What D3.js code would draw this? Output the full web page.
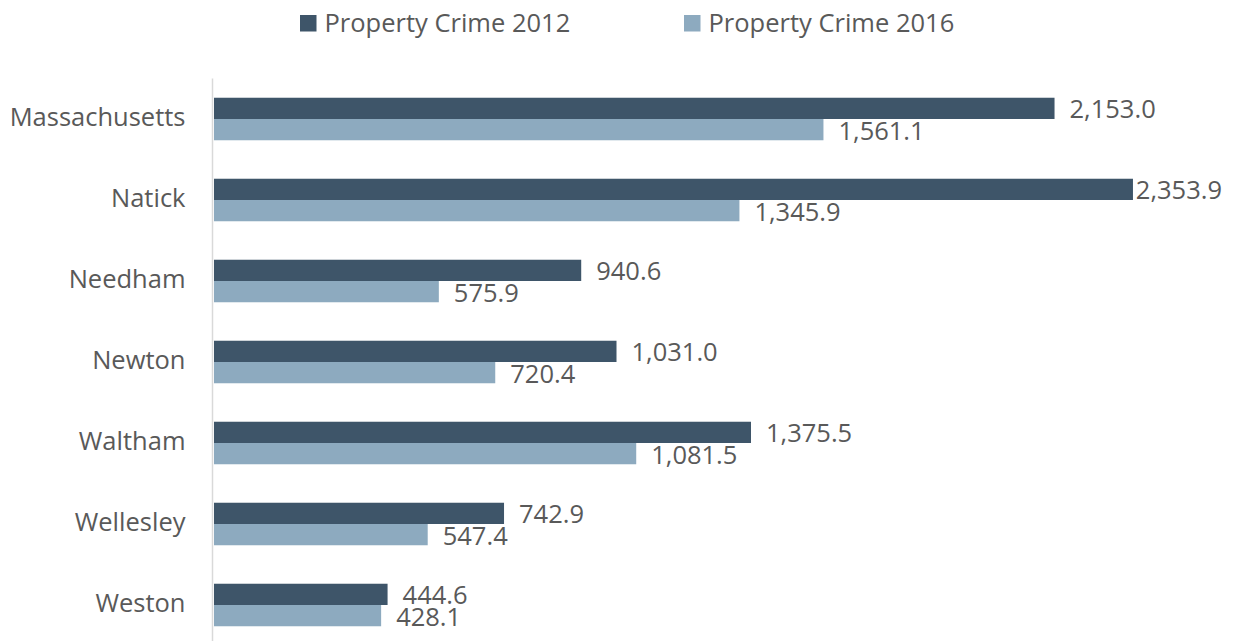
<!DOCTYPE html>
<html>
<head>
<meta charset="utf-8">
<script src="https://cdn.jsdelivr.net/npm/d3@7/dist/d3.min.js"></script>
<style>
  html, body { margin: 0; padding: 0; background: #ffffff; }
  svg { display: block; }
  text { font-family: "Open Sans", "Liberation Sans", sans-serif; fill: #595959; }
</style>
</head>
<body>
<svg id="chart" width="1233" height="641"></svg>
<script>
// Property crime rates by community
const categories = ["Massachusetts", "Natick", "Needham", "Newton", "Waltham", "Wellesley", "Weston"];
const seriesNames = ["Property Crime 2012", "Property Crime 2016"];
const crime2012 = [2153.0, 2353.9, 940.6, 1031.0, 1375.5, 742.9, 444.6];
const crime2016 = [1561.1, 1345.9, 575.9, 720.4, 1081.5, 547.4, 428.1];
const colors = ["#3E5569", "#8DAABF"];

const W = 1233, H = 641;
const fontSize = 25.5;
const svg = d3.select("#chart");

const plotLeft = 214, plotTop = 78.5, plotBottom = 645.5;
const x = d3.scaleLinear().domain([0, 2500]).range([plotLeft, plotLeft + 976]);

const y0 = d3.scaleBand()
  .domain(categories)
  .range([plotTop, plotBottom])
  .paddingInner(0.475)
  .paddingOuter(0.2375);

const y1 = d3.scaleBand()
  .domain(seriesNames)
  .range([0, y0.bandwidth()]);

const rows = categories.map((c, i) => ({
  category: c,
  values: [
    { series: seriesNames[0], value: crime2012[i], color: colors[0] },
    { series: seriesNames[1], value: crime2016[i], color: colors[1] }
  ]
}));

// Bars
const groups = svg.append("g").selectAll("g.group")
  .data(rows).join("g")
  .attr("class", "group")
  .attr("transform", d => `translate(0,${y0(d.category)})`);

groups.selectAll("rect")
  .data(d => d.values).join("rect")
  .attr("x", x(0))
  .attr("y", d => y1(d.series))
  .attr("width", d => x(d.value) - x(0))
  .attr("height", y1.bandwidth())
  .attr("fill", d => d.color);

// Value labels, kept inside the right edge
const fmt = d3.format(",.1f");
groups.selectAll("text.value")
  .data(d => d.values).join("text")
  .attr("class", "value")
  .attr("y", (d, i) => y1(d.series) + y1.bandwidth() / 2 + (i === 1 ? 1.5 : 0))
  .attr("dy", "0.36em")
  .style("font-size", fontSize + "px")
  .text(d => fmt(d.value))
  .attr("x", function(d) {
    const w = this.getComputedTextLength();
    return Math.min(x(d.value) + 15, W - 11 - w);
  });

// Category axis
const yAxis = d3.axisLeft(y0).tickSize(0).tickPadding(27);
const axisG = svg.append("g")
  .attr("transform", `translate(${plotLeft - 1.5},0)`)
  .call(yAxis);
axisG.select(".domain")
  .attr("d", `M0,${plotTop}V${plotBottom}`)
  .attr("stroke", "#D9D9D9")
  .attr("stroke-width", 1.5);
axisG.selectAll(".tick text")
  .style("font-size", fontSize + "px")
  .style("font-family", '"Open Sans", "Liberation Sans", sans-serif')
  .attr("fill", "#595959")
  .attr("dy", "0.28em");

// Legend
const legendX = [300, 684];
const legend = svg.append("g").selectAll("g")
  .data(seriesNames).join("g")
  .attr("transform", (d, i) => `translate(${legendX[i]},0)`);
legend.append("rect")
  .attr("x", 0).attr("y", 15)
  .attr("width", 16.5).attr("height", 16.5)
  .attr("fill", (d, i) => colors[i]);
legend.append("text")
  .attr("x", 24.5).attr("y", 31.5)
  .style("font-size", fontSize + "px")
  .text(d => d);
</script>
</body>
</html>
